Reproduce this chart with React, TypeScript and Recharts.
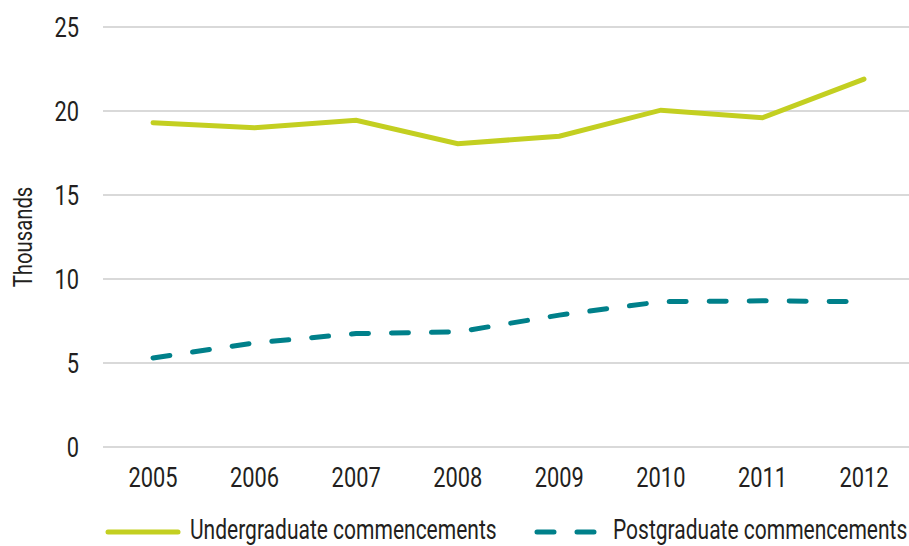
import { LineChart, Line, XAxis, YAxis, CartesianGrid, Legend } from 'recharts'

const years = ['2005', '2006', '2007', '2008', '2009', '2010', '2011', '2012']
const undergraduate = [19.3, 19.0, 19.45, 18.05, 18.5, 20.05, 19.6, 21.9]
const postgraduate = [5.3, 6.2, 6.75, 6.85, 7.85, 8.65, 8.7, 8.65]
const yTicks = [0, 5, 10, 15, 20, 25]

const GREEN = '#c3cf21'
const TEXT = '#231f20'
const TEAL = '#00808a'
const FONT = 'Roboto, "Liberation Sans", sans-serif'
const FONT_SIZE = 28
// the reference uses a condensed face, so squeeze Roboto horizontally
const SQUEEZE = 0.78
const LEGEND_SQUEEZE = 0.75

const chartData = years.map((year, i) => ({
  year,
  undergraduate: undergraduate[i],
  postgraduate: postgraduate[i],
}))

function XTick({ x, y, payload }: any) {
  return (
    <text
      transform={`translate(${x},${y}) scale(${SQUEEZE},1)`}
      textAnchor="middle"
      dy="0.71em"
      fill={TEXT}
      fontSize={FONT_SIZE}
      fontFamily={FONT}
    >
      {payload.value}
    </text>
  )
}

function YTick({ x, y, payload }: any) {
  return (
    <text
      transform={`translate(${x},${y}) scale(${SQUEEZE},1)`}
      textAnchor="end"
      dy="0.355em"
      fill={TEXT}
      fontSize={FONT_SIZE}
      fontFamily={FONT}
    >
      {payload.value}
    </text>
  )
}

function YLabel({ viewBox }: any) {
  const cy = viewBox.y + viewBox.height / 2
  return (
    <text
      transform={`translate(32,${cy}) rotate(-90) scale(${SQUEEZE},1)`}
      textAnchor="middle"
      fill={TEXT}
      fontSize={26}
      fontFamily={FONT}
    >
      Thousands
    </text>
  )
}

const legendText: React.CSSProperties = {
  position: 'absolute',
  top: 2,
  lineHeight: '36px',
  whiteSpace: 'nowrap',
  transform: `scaleX(${LEGEND_SQUEEZE})`,
  transformOrigin: 'left center',
}

function LegendContent() {
  return (
    <div style={{ position: 'relative', height: 36, width: 909, fontFamily: FONT, fontSize: FONT_SIZE, color: TEXT }}>
      <svg width={80} height={12} style={{ position: 'absolute', left: 104, top: 16 }}>
        <line x1={4} y1={6} x2={74} y2={6} stroke={GREEN} strokeWidth={5} strokeLinecap="round" />
      </svg>
      <span style={{ ...legendText, left: 190 }}>Undergraduate commencements</span>
      <svg width={70} height={12} style={{ position: 'absolute', left: 532, top: 16 }}>
        <line
          x1={5}
          y1={6}
          x2={64}
          y2={6}
          stroke={TEAL}
          strokeWidth={5}
          strokeLinecap="round"
          strokeDasharray="17 23"
        />
      </svg>
      <span style={{ ...legendText, left: 613 }}>Postgraduate commencements</span>
    </div>
  )
}

export default function App() {
  return (
    <div style={{ position: 'absolute', left: 0, top: 0, width: 909, height: 546, overflow: 'hidden', background: '#fff' }}>
      <LineChart
        width={915}
        height={546}
        data={chartData}
        margin={{ top: 27, right: 0, left: 0, bottom: 0 }}
        style={{ fontFamily: FONT }}
      >
        <CartesianGrid stroke="#d9d9d9" strokeWidth={2} vertical={false} />
        <XAxis
          dataKey="year"
          axisLine={false}
          tickLine={false}
          height={63}
          tickMargin={14}
          padding={{ left: 50, right: 51 }}
          tick={<XTick />}
          interval={0}
        />
        <YAxis
          domain={[0, 25]}
          ticks={yTicks}
          axisLine={false}
          tickLine={false}
          width={103}
          tickMargin={18}
          tick={<YTick />}
          label={{ content: <YLabel /> }}
        />
        <Legend verticalAlign="bottom" height={36} content={<LegendContent />} />
        <Line
          dataKey="undergraduate"
          name="Undergraduate commencements"
          stroke={GREEN}
          strokeWidth={5}
          strokeLinecap="round"
          dot={false}
          isAnimationActive={false}
        />
        <Line
          dataKey="postgraduate"
          name="Postgraduate commencements"
          stroke={TEAL}
          strokeWidth={5}
          strokeLinecap="round"
          strokeDasharray="17 23"
          dot={false}
          isAnimationActive={false}
        />
      </LineChart>
    </div>
  )
}
